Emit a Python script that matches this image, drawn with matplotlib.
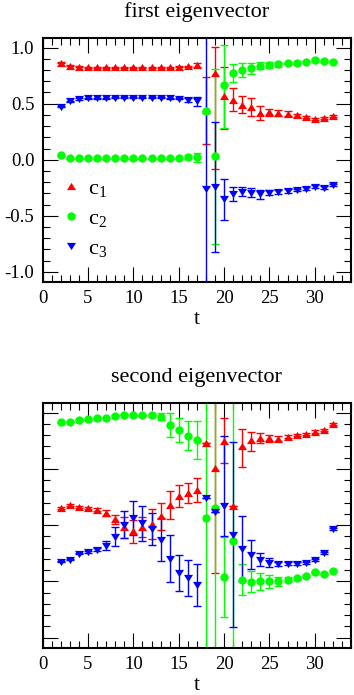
import matplotlib
matplotlib.use("Agg")
import matplotlib.pyplot as plt
import numpy as np
from matplotlib.ticker import MultipleLocator, FuncFormatter
from matplotlib.path import Path
from matplotlib.markers import MarkerStyle

plt.rcParams['font.family'] = ['Liberation Serif', 'DejaVu Serif']
plt.rcParams['mathtext.fontset'] = 'custom'
plt.rcParams['mathtext.rm'] = 'Liberation Serif'
plt.rcParams['mathtext.it'] = 'Liberation Serif:italic'
plt.rcParams['axes.unicode_minus'] = False

# ---------------- data ----------------
t = list(range(2, 33))

titles = ["first eigenvector", "second eigenvector"]
labels = ["c$_1$", "c$_2$", "c$_3$"]

# first eigenvector
ev1_c1 = [0.867, 0.840, 0.830, 0.826, 0.826, 0.826, 0.826, 0.826, 0.826, 0.826, 0.826, 0.826, 0.826, 0.828, 0.832, 0.846,
          0.440, 0.775, 0.565, 0.536, 0.490, 0.470, 0.418, 0.423, 0.418, 0.412, 0.397, 0.382, 0.365, 0.374, 0.388]
ev1_c1_lo = [0.005] * 15 + [0.015, 0.30, 0.86, 0.29, 0.10, 0.075, 0.08, 0.06, 0.03, 0.03, 0.02, 0.015, 0.01, 0.01, 0.01, 0.01]
ev1_c1_hi = [0.005] * 15 + [0.015, 0.30, 0.23, 0.265, 0.10, 0.075, 0.08, 0.06, 0.03, 0.03, 0.02, 0.015, 0.01, 0.01, 0.01, 0.01]

ev1_c2 = [0.039] + [0.012] * 12 + [0.015, 0.025, 0.022,
          0.437, 0.033, 0.670, 0.775, 0.800, 0.817, 0.840, 0.846, 0.850, 0.860, 0.867, 0.876, 0.891, 0.882, 0.876]
ev1_c2_lo = [0.005] * 14 + [0.02, 0.04, 0.0, 0.78, 0.385, 0.08, 0.06, 0.05, 0.035, 0.025, 0.02, 0.01, 0.01, 0.008, 0.008, 0.008, 0.008]
ev1_c2_hi = [0.005] * 14 + [0.02, 0.04, 0.0, 0.78, 0.35, 0.08, 0.06, 0.05, 0.035, 0.025, 0.02, 0.01, 0.01, 0.008, 0.008, 0.008, 0.008]

ev1_c3 = [0.471, 0.521, 0.542, 0.548, 0.550, 0.550, 0.553, 0.553, 0.555, 0.553, 0.553, 0.553, 0.550, 0.545, 0.535, 0.520,
          -0.263, -0.239, -0.350, -0.307, -0.287, -0.292, -0.307, -0.292, -0.287, -0.278, -0.269, -0.257, -0.239, -0.248, -0.227]
ev1_c3_lo = [0.005] * 14 + [0.02, 0.04, 2.0, 0.58, 0.185, 0.06, 0.04, 0.04, 0.04, 0.025, 0.02, 0.015, 0.01, 0.01, 0.01, 0.01, 0.01]
ev1_c3_hi = [0.005] * 14 + [0.02, 0.04, 2.0, 0.58, 0.18, 0.06, 0.04, 0.04, 0.04, 0.025, 0.02, 0.015, 0.01, 0.01, 0.01, 0.01, 0.01]

# second eigenvector
ev2_c1 = [0.152, 0.181, 0.160, 0.155, 0.137, 0.107, 0.054, -0.020, -0.056, -0.017, 0.010, 0.077, 0.180, 0.260, 0.285, 0.314,
          0.734, 0.507, 0.752, 0.172, 0.700, 0.758, 0.773, 0.773, 0.770, 0.787, 0.802, 0.811, 0.832, 0.846, 0.900]
ev2_c1_lo = [0.01, 0.01, 0.01, 0.01, 0.015, 0.03, 0.04, 0.095, 0.10, 0.09, 0.13, 0.12, 0.125, 0.10, 0.09, 0.105,
             0.0, 0.93, 0.20, 0.0, 0.18, 0.10, 0.045, 0.03, 0.02, 0.015, 0.01, 0.01, 0.01, 0.01, 0.01]
ev2_c1_hi = [0.01, 0.01, 0.01, 0.01, 0.015, 0.03, 0.04, 0.095, 0.10, 0.09, 0.13, 0.12, 0.125, 0.10, 0.09, 0.105,
             0.0, 0.93, 0.20, 0.0, 0.153, 0.07, 0.045, 0.03, 0.02, 0.015, 0.01, 0.01, 0.01, 0.01, 0.01]

ev2_c2 = [0.915, 0.920, 0.935, 0.940, 0.950, 0.956, 0.971, 0.980, 0.975, 0.975, 0.975, 0.965, 0.890, 0.846, 0.796, 0.758,
          0.063, 0.152, -0.460, -0.145, -0.485, -0.508, -0.500, -0.500, -0.500, -0.485, -0.470, -0.450, -0.420, -0.434, -0.405]
ev2_c2_lo = [0.005] * 10 + [0.01, 0.03, 0.107, 0.11, 0.13, 0.17,
             2.0, 2.0, 0.355, 2.0, 0.135, 0.09, 0.077, 0.06, 0.04, 0.02, 0.01, 0.01, 0.01, 0.01, 0.01]
ev2_c2_hi = [0.005] * 10 + [0.01, 0.03, 0.107, 0.11, 0.13, 0.17,
             2.0, 2.0, 0.355, 2.0, 0.14, 0.10, 0.077, 0.06, 0.04, 0.02, 0.01, 0.01, 0.01, 0.01, 0.01]

ev2_c3 = [-0.327, -0.307, -0.256, -0.239, -0.218, -0.185, -0.104, 0.004, 0.063, 0.018, -0.035, -0.130, -0.300, -0.425, -0.470, -0.535,
          0.240, 0.113, 0.172, -0.085, -0.210, -0.263, -0.307, -0.336, -0.345, -0.342, -0.342, -0.336, -0.313, -0.248, -0.035]
ev2_c3_lo = [0.005, 0.005, 0.005, 0.005, 0.015, 0.04, 0.085, 0.118, 0.148, 0.155, 0.14, 0.19, 0.21, 0.16, 0.16, 0.185,
             0.0, 0.0, 0.27, 0.82, 0.29, 0.13, 0.06, 0.04, 0.02, 0.015, 0.01, 0.01, 0.01, 0.01, 0.01]
ev2_c3_hi = [0.005, 0.005, 0.005, 0.005, 0.015, 0.04, 0.085, 0.118, 0.148, 0.155, 0.14, 0.19, 0.21, 0.16, 0.16, 0.185,
             0.0, 0.0, 0.62, 0.82, 0.293, 0.13, 0.06, 0.04, 0.02, 0.015, 0.01, 0.01, 0.01, 0.01, 0.01]

panels = [
    [(ev1_c1, ev1_c1_lo, ev1_c1_hi), (ev1_c2, ev1_c2_lo, ev1_c2_hi), (ev1_c3, ev1_c3_lo, ev1_c3_hi)],
    [(ev2_c1, ev2_c1_lo, ev2_c1_hi), (ev2_c2, ev2_c2_lo, ev2_c2_hi), (ev2_c3, ev2_c3_lo, ev2_c3_hi)],
]

# ---------------- style ----------------
colors = ["#ff0000", "#00ff00", "#0000ff"]
tri_up = MarkerStyle(Path([(-1, -0.8), (1, -0.8), (0, 0.8), (-1, -0.8)], closed=True))
tri_dn = MarkerStyle(Path([(-1, 0.8), (1, 0.8), (0, -0.8), (-1, 0.8)], closed=True))
markers = [tri_up, "o", tri_dn]
msizes = [6.5, 6.0, 6.5]

fig = plt.figure(figsize=(3.54, 6.95), dpi=100)
W, H = 354.0, 695.0
axes_px = [(42.7, 38.3, 351.0, 282.0), (42.7, 403.3, 351.0, 647.7)]

for pi, (x0, y0, x1, y1) in enumerate(axes_px):
    ax = fig.add_axes([x0 / W, 1 - y1 / H, (x1 - x0) / W, (y1 - y0) / H])
    series = panels[pi]
    handles = []
    for si, (vals, lo, hi) in enumerate(series):
        cont = ax.errorbar(t, vals, yerr=[lo, hi], fmt='none', ecolor=colors[si],
                           elinewidth=1.0, capsize=3.0, capthick=1.0, zorder=2)
        for coll in cont.lines[2]:
            coll.set_snap(True)
        for cap in cont.lines[1]:
            cap.set_snap(True)
    for si, (vals, lo, hi) in enumerate(series):
        h, = ax.plot(t, vals, linestyle='none', marker=markers[si], markersize=msizes[si],
                     color=colors[si], markeredgewidth=0, zorder=3 + si, label=labels[si])
        handles.append(h)

    ax.set_xlim(0, 34)
    ax.set_ylim(-1.09, 1.083)
    ax.xaxis.set_major_locator(MultipleLocator(5))
    ax.xaxis.set_minor_locator(MultipleLocator(1))
    ax.yaxis.set_major_locator(MultipleLocator(0.5))
    ax.yaxis.set_minor_locator(MultipleLocator(0.1))
    ax.tick_params(which='both', direction='in', top=True, right=True, width=0.8)
    ax.tick_params(which='major', length=10.8, labelsize=13.5, pad=6)
    ax.tick_params(which='minor', length=5.0)
    ax.xaxis.set_major_formatter(FuncFormatter(lambda v, p: "%d" % round(v)))
    if pi == 0:
        ax.yaxis.set_major_formatter(FuncFormatter(lambda v, p: ("%.1f" % v).replace("−", "-")))
    else:
        ax.tick_params(axis='y', labelleft=False)
    for sp in ax.spines.values():
        sp.set_linewidth(1.5)
    ax.set_xlabel("t", fontsize=16, labelpad=2)
    ax.set_title(titles[pi], fontsize=16, pad=15)

    if pi == 0:
        ax.legend(handles=handles, loc='upper left', bbox_to_anchor=(0.062, 0.425),
                  frameon=False, fontsize=16, handlelength=0.8, handletextpad=0.4,
                  borderpad=0, borderaxespad=0, labelspacing=0.42)

fig.savefig("out.png", dpi=100)
